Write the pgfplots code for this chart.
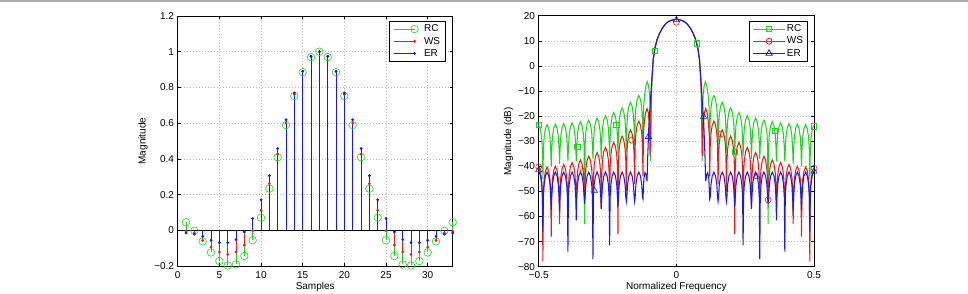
\documentclass[border=0pt]{standalone}
\usepackage{fontspec}
\setmainfont{Liberation Sans}
\usepackage{pgfplots}
\usepackage{pgfplotstable}
\pgfplotsset{compat=1.18}

\definecolor{rccol}{RGB}{25,215,25}
\definecolor{wscol}{RGB}{235,25,25}
\definecolor{ercol}{RGB}{25,25,235}

\pgfplotsset{
  matlab/.style={
    scale only axis,
    clip=false,
    axis line style={black, line width=0.7pt},
    tick style={black, line width=0.5pt},
    major tick length=3pt,
    grid=major,
    grid style={gray!55, line width=0.5pt, dash pattern=on 0.7pt off 2.3pt},
    tick label style={font=\fontsize{10}{12}\selectfont},
    label style={font=\fontsize{10}{12}\selectfont},
    xticklabel style={inner sep=0pt, anchor=north, yshift=-5pt},
    yticklabel style={inner sep=0pt, anchor=east, xshift=-3.5pt},
    legend cell align=left,
    legend style={draw=black, line width=0.7pt, fill=white,
      font=\fontsize{10}{12}\selectfont, anchor=north east,
      row sep=0.7pt, inner xsep=4pt, inner ysep=2pt,
      nodes={inner xsep=1.5pt, inner ysep=1.5pt}},
  },
  stemlegend/.style={legend image code/.code={%
      \draw[##1] (0pt,0pt) -- (21pt,0pt);
      \draw[##1] plot coordinates {(21pt,0pt)};
      \path (28.7pt,0pt);}},
}

% magnitude responses in dB (nan: no sample for that filter at this frequency)
\pgfplotstableread{
f        rc     ws     er
-0.5000  -23.6  -40.5  -42
-0.4939  -25.2  -42.1  -43.6
-0.4893  -28.6  -45.5  -47
-0.4866  -33.6  -50.5  -52
-0.4848  -45    -78    -66
-0.4830  -33.4  -50.3  -52.3
-0.4803  -28.4  -45.3  -47.3
-0.4757  -25.0  -41.9  -43.9
-0.4697  -23.4  -40.3  -42.3
-0.4636  -25.0  -41.9  -43.9
-0.4590  -28.4  -45.3  -47.3
-0.4563  -33.4  -50.3  -52.3
-0.4545  -40    -68    -57.5
-0.4527  -33.2  -50    -52.3
-0.4500  -28.2  -45    -47.3
-0.4454  -24.8  -41.6  -43.9
-0.4394  -23.2  -40    -42.3
-0.4333  -24.8  -41.6  -43.9
-0.4287  -28.2  -45    -47.3
-0.4260  -33.2  -50    -52.3
-0.4242  -39    -63    -58
-0.4224  -33    -49.3  -52.3
-0.4197  -28    -44.3  -47.3
-0.4151  -24.6  -40.9  -43.9
-0.4091  -23    -39.3  -42.3
-0.4030  -24.6  -40.9  -43.9
-0.3984  -28    -44.3  -47.3
-0.3957  -33    -49.3  -52.3
-0.3939  -38    -56    -74
-0.3921  -32.7  -48.5  -52.3
-0.3894  -27.7  -43.5  -47.3
-0.3848  -24.3  -40.1  -43.9
-0.3788  -22.7  -38.5  -42.3
-0.3727  -24.3  -40.1  -43.9
-0.3681  -27.7  -43.5  -47.3
-0.3654  -32.7  -48.5  -52.3
-0.3636  -38    -55    -61.5
-0.3618  -32.2  -47.5  -52.3
-0.3591  -27.2  -42.5  -47.3
-0.3545  -23.8  -39.1  -43.9
-0.3485  -22.2  -37.5  -42.3
-0.3424  -23.8  -39.1  -43.9
-0.3378  -27.2  -42.5  -47.3
-0.3351  -32.2  -47.5  -52.3
-0.3333  -63    -52    -55
-0.3315  -31.6  -46    -52.3
-0.3288  -26.6  -41    -47.3
-0.3242  -23.2  -37.6  -43.9
-0.3182  -21.6  -36    -42.3
-0.3121  -23.2  -37.6  -43.9
-0.3075  -26.6  -41    -47.3
-0.3048  -31.6  -46    -52.3
-0.3030  -37    -53    -77
-0.3012  -30.8  -44.5  -52.3
-0.2985  -25.8  -39.5  -47.3
-0.2939  -22.4  -36.1  -43.9
-0.2879  -20.8  -34.5  -42.3
-0.2818  -22.4  -36.1  -43.9
-0.2772  -25.8  -39.5  -47.3
-0.2745  -30.8  -44.5  -52.3
-0.2727  -37    -57    -57
-0.2709  -29.8  -42.5  -52.3
-0.2682  -24.8  -37.5  -47.3
-0.2636  -21.4  -34.1  -43.9
-0.2576  -19.8  -32.5  -42.3
-0.2515  -21.4  -34.1  -43.9
-0.2469  -24.8  -37.5  -47.3
-0.2442  -29.8  -42.5  -52.3
-0.2424  -36    -54    -71.5
-0.2406  -28.6  -40.5  -52.3
-0.2379  -23.6  -35.5  -47.3
-0.2333  -20.2  -32.1  -43.9
-0.2273  -18.6  -30.5  -42.3
-0.2212  -20.2  -32.1  -43.9
-0.2166  -23.6  -35.5  -47.3
-0.2139  -28.6  -40.5  -52.3
-0.2121  -35    -67    -56
-0.2103  -26.8  -38    -52.3
-0.2076  -21.8  -33    -47.3
-0.2030  -18.4  -29.6  -43.9
-0.1970  -16.8  -28    -42.3
-0.1909  -18.4  -29.6  -43.9
-0.1863  -21.8  -33    -47.3
-0.1836  -26.8  -38    -52.3
-0.1818  -34    -50    -54
-0.1800  -24.5  -35.5  -52.3
-0.1773  -19.5  -30.5  -47.3
-0.1727  -16.1  -27.1  -43.9
-0.1667  -14.5  -25.5  -42.3
-0.1606  -16.1  -27.1  -43.9
-0.1560  -19.5  -30.5  -47.3
-0.1533  -24.5  -35.5  -52.3
-0.1515  -32    -47    -54
-0.1497  -21.8  -32    -52.3
-0.1470  -16.8  -27    -47.3
-0.1424  -13.4  -23.6  -43.9
-0.1364  -11.8  -22    -42.3
-0.1303  -13.4  -23.6  -43.9
-0.1257  -16.8  -27    -47.3
-0.1230  -21.8  -32    -52.3
-0.1212  -31    -44    -53
-0.1195  nan    -27    nan
-0.1190  -16.3  nan    nan
-0.1180  nan    nan    -45
-0.1160  nan    -22    nan
-0.1150  -11.3  nan    nan
-0.1140  nan    nan    -42.5
-0.1115  nan    -18.6  nan
-0.1105  -7.9   nan    nan
-0.1100  nan    nan    -43.5
-0.1065  nan    -17    -46
-0.1055  -6.3   nan    nan
-0.1040  nan    nan    -36
-0.1020  nan    -18.6  nan
-0.1010  -7.9   nan    nan
-0.1000  nan    nan    -24
-0.0990  nan    -22    nan
-0.0975  -11.3  nan    nan
-0.0970  nan    -27    nan
-0.0960  nan    nan    -17
-0.0955  nan    -36    nan
-0.0952  -16.3  nan    nan
-0.0935  -38    nan    nan
-0.0920  nan    nan    -10
-0.0910  -12    -12    nan
-0.0880  -4.0   -4.0   -4.0
-0.0840  2.5    2.5    2.5
-0.0780  7.0    7.0    7.0
-0.0700  10.5   10.5   10.5
-0.0600  13.2   13.2   13.2
-0.0500  15.2   15.2   15.2
-0.0400  16.6   16.6   16.6
-0.0300  17.6   17.6   17.6
-0.0200  18.1   18.1   18.1
-0.0100  18.4   18.4   18.4
 0.0000  18.5   18.5   18.5
 0.0100  18.4   18.4   18.4
 0.0200  18.1   18.1   18.1
 0.0300  17.6   17.6   17.6
 0.0400  16.6   16.6   16.6
 0.0500  15.2   15.2   15.2
 0.0600  13.2   13.2   13.2
 0.0700  10.5   10.5   10.5
 0.0780  7.0    7.0    7.0
 0.0840  2.5    2.5    2.5
 0.0880  -4.0   -4.0   -4.0
 0.0910  -12    -12    nan
 0.0920  nan    nan    -10
 0.0935  -38    nan    nan
 0.0952  -16.3  nan    nan
 0.0955  nan    -36    nan
 0.0960  nan    nan    -17
 0.0970  nan    -27    nan
 0.0975  -11.3  nan    nan
 0.0990  nan    -22    nan
 0.1000  nan    nan    -24
 0.1010  -7.9   nan    nan
 0.1020  nan    -18.6  nan
 0.1040  nan    nan    -36
 0.1055  -6.3   nan    nan
 0.1065  nan    -17    -46
 0.1100  nan    nan    -43.5
 0.1105  -7.9   nan    nan
 0.1115  nan    -18.6  nan
 0.1140  nan    nan    -42.5
 0.1150  -11.3  nan    nan
 0.1160  nan    -22    nan
 0.1180  nan    nan    -45
 0.1190  -16.3  nan    nan
 0.1195  nan    -27    nan
 0.1212  -31    -44    -53
 0.1230  -21.8  -32    -52.3
 0.1257  -16.8  -27    -47.3
 0.1303  -13.4  -23.6  -43.9
 0.1364  -11.8  -22    -42.3
 0.1424  -13.4  -23.6  -43.9
 0.1470  -16.8  -27    -47.3
 0.1497  -21.8  -32    -52.3
 0.1515  -32    -47    -54
 0.1533  -24.5  -35.5  -52.3
 0.1560  -19.5  -30.5  -47.3
 0.1606  -16.1  -27.1  -43.9
 0.1667  -14.5  -25.5  -42.3
 0.1727  -16.1  -27.1  -43.9
 0.1773  -19.5  -30.5  -47.3
 0.1800  -24.5  -35.5  -52.3
 0.1818  -34    -50    -54
 0.1836  -26.8  -38    -52.3
 0.1863  -21.8  -33    -47.3
 0.1909  -18.4  -29.6  -43.9
 0.1970  -16.8  -28    -42.3
 0.2030  -18.4  -29.6  -43.9
 0.2076  -21.8  -33    -47.3
 0.2103  -26.8  -38    -52.3
 0.2121  -35    -67    -56
 0.2139  -28.6  -40.5  -52.3
 0.2166  -23.6  -35.5  -47.3
 0.2212  -20.2  -32.1  -43.9
 0.2273  -18.6  -30.5  -42.3
 0.2333  -20.2  -32.1  -43.9
 0.2379  -23.6  -35.5  -47.3
 0.2406  -28.6  -40.5  -52.3
 0.2424  -36    -54    -71.5
 0.2442  -29.8  -42.5  -52.3
 0.2469  -24.8  -37.5  -47.3
 0.2515  -21.4  -34.1  -43.9
 0.2576  -19.8  -32.5  -42.3
 0.2636  -21.4  -34.1  -43.9
 0.2682  -24.8  -37.5  -47.3
 0.2709  -29.8  -42.5  -52.3
 0.2727  -37    -57    -57
 0.2745  -30.8  -44.5  -52.3
 0.2772  -25.8  -39.5  -47.3
 0.2818  -22.4  -36.1  -43.9
 0.2879  -20.8  -34.5  -42.3
 0.2939  -22.4  -36.1  -43.9
 0.2985  -25.8  -39.5  -47.3
 0.3012  -30.8  -44.5  -52.3
 0.3030  -37    -53    -77
 0.3048  -31.6  -46    -52.3
 0.3075  -26.6  -41    -47.3
 0.3121  -23.2  -37.6  -43.9
 0.3182  -21.6  -36    -42.3
 0.3242  -23.2  -37.6  -43.9
 0.3288  -26.6  -41    -47.3
 0.3315  -31.6  -46    -52.3
 0.3333  -63    -52    -55
 0.3351  -32.2  -47.5  -52.3
 0.3378  -27.2  -42.5  -47.3
 0.3424  -23.8  -39.1  -43.9
 0.3485  -22.2  -37.5  -42.3
 0.3545  -23.8  -39.1  -43.9
 0.3591  -27.2  -42.5  -47.3
 0.3618  -32.2  -47.5  -52.3
 0.3636  -38    -55    -61.5
 0.3654  -32.7  -48.5  -52.3
 0.3681  -27.7  -43.5  -47.3
 0.3727  -24.3  -40.1  -43.9
 0.3788  -22.7  -38.5  -42.3
 0.3848  -24.3  -40.1  -43.9
 0.3894  -27.7  -43.5  -47.3
 0.3921  -32.7  -48.5  -52.3
 0.3939  -38    -56    -74
 0.3957  -33    -49.3  -52.3
 0.3984  -28    -44.3  -47.3
 0.4030  -24.6  -40.9  -43.9
 0.4091  -23    -39.3  -42.3
 0.4151  -24.6  -40.9  -43.9
 0.4197  -28    -44.3  -47.3
 0.4224  -33    -49.3  -52.3
 0.4242  -39    -63    -58
 0.4260  -33.2  -50    -52.3
 0.4287  -28.2  -45    -47.3
 0.4333  -24.8  -41.6  -43.9
 0.4394  -23.2  -40    -42.3
 0.4454  -24.8  -41.6  -43.9
 0.4500  -28.2  -45    -47.3
 0.4527  -33.2  -50    -52.3
 0.4545  -40    -68    -57.5
 0.4563  -33.4  -50.3  -52.3
 0.4590  -28.4  -45.3  -47.3
 0.4636  -25.0  -41.9  -43.9
 0.4697  -23.4  -40.3  -42.3
 0.4757  -25.0  -41.9  -43.9
 0.4803  -28.4  -45.3  -47.3
 0.4830  -33.4  -50.3  -52.3
 0.4848  -45    -78    -66
 0.4866  -33.6  -50.5  -52
 0.4893  -28.6  -45.5  -47
 0.4939  -25.2  -42.1  -43.6
 0.5000  -23.6  -40.5  -42
}\magtab

\begin{document}
\begin{tikzpicture}
\path[use as bounding box] (0,0) rectangle (968pt,294pt);
\draw[gray!65, line width=1.6pt] (0,293.2pt) -- (968pt,293.2pt);

% ---------------- impulse responses ----------------
\begin{axis}[matlab,
  at={(177.7pt,28pt)}, anchor=south west,
  width=275pt, height=250pt,
  xmin=0, xmax=33, ymin=-0.2, ymax=1.2,
  xtick={0,5,...,30}, xticklabels={0,5,10,15,20,25,30},
  ytick={-0.2,0,0.2,0.4,0.6,0.8,1,1.2},
  yticklabels={−0.2,0,0.2,0.4,0.6,0.8,1,1.2},
  xlabel={Samples}, ylabel={Magnitude},
  xlabel style={at={(axis description cs:0.5,-0.084)}, anchor=center},
  ylabel style={at={(axis description cs:-0.126,0.5)}, anchor=center},
  legend style={at={(0.9756,0.98)}},
]
\addplot[black, line width=0.5pt, forget plot] coordinates {(0,0) (33,0)};

\addplot[ycomb, rccol, line width=0.6pt, mark=o, mark size=3.8pt,
  mark options={solid, line width=0.6pt}, stemlegend] coordinates {
  (1,0.045) (2,-0.003) (3,-0.062) (4,-0.124) (5,-0.172) (6,-0.197) (7,-0.191)
  (8,-0.144) (9,-0.056) (10,0.071) (11,0.233) (12,0.409) (13,0.589) (14,0.752)
  (15,0.885) (16,0.970) (17,1.000) (18,0.970) (19,0.885) (20,0.752) (21,0.589)
  (22,0.409) (23,0.233) (24,0.071) (25,-0.056) (26,-0.144) (27,-0.191) (28,-0.197)
  (29,-0.172) (30,-0.124) (31,-0.062) (32,-0.003) (33,0.045)};
\addlegendentry{RC}

\addplot[ycomb, wscol, line width=0.6pt, mark=*, mark size=1.1pt,
  mark options={solid}, stemlegend] coordinates {
  (1,-0.004) (2,-0.015) (3,-0.057) (4,-0.094) (5,-0.122) (6,-0.135) (7,-0.122)
  (8,-0.083) (9,-0.002) (10,0.112) (11,0.261) (12,0.426) (13,0.600) (14,0.760)
  (15,0.890) (16,0.974) (17,1.000) (18,0.974) (19,0.890) (20,0.760) (21,0.600)
  (22,0.426) (23,0.261) (24,0.112) (25,-0.002) (26,-0.083) (27,-0.122) (28,-0.135)
  (29,-0.122) (30,-0.094) (31,-0.057) (32,-0.015) (33,-0.004)};
\addlegendentry{WS}

\addplot[ycomb, ercol, line width=0.6pt, mark=*, mark size=1.1pt,
  mark options={solid}, stemlegend] coordinates {
  (1,-0.015) (2,-0.022) (3,-0.034) (4,-0.056) (5,-0.069) (6,-0.069) (7,-0.052)
  (8,-0.009) (9,0.066) (10,0.171) (11,0.306) (12,0.458) (13,0.619) (14,0.769)
  (15,0.890) (16,0.974) (17,1.000) (18,0.974) (19,0.890) (20,0.769) (21,0.619)
  (22,0.458) (23,0.306) (24,0.171) (25,0.066) (26,-0.009) (27,-0.052) (28,-0.069)
  (29,-0.069) (30,-0.056) (31,-0.034) (32,-0.022) (33,-0.015)};
\addlegendentry{ER}
\end{axis}

% ---------------- magnitude responses ----------------
\begin{axis}[matlab,
  at={(538.7pt,27.3pt)}, anchor=south west,
  width=275.3pt, height=251pt,
  xmin=-0.5, xmax=0.5, ymin=-80, ymax=20,
  xtick={-0.5,0,0.5}, xticklabels={−0.5,0,0.5},
  ytick={-80,-70,...,20},
  yticklabels={−80,−70,−60,−50,−40,−30,−20,−10,0,10,20},
  xlabel={Normalized Frequency}, ylabel={Magnitude (dB)},
  xlabel style={at={(axis description cs:0.5,-0.081)}, anchor=center},
  ylabel style={at={(axis description cs:-0.110,0.5)}, anchor=center},
  legend image code/.code={\draw[#1, mark repeat=2, mark phase=2]
      plot coordinates {(0pt,0pt) (16pt,0pt) (32pt,0pt)};},
  legend style={at={(0.978,0.979)}, inner xsep=3pt},
]
\addlegendimage{rccol, line width=0.8pt, mark=square, mark size=2.7pt, mark options={solid}}
\addlegendentry{RC}
\addlegendimage{wscol, line width=0.8pt, mark=o, mark size=3pt, mark options={solid}}
\addlegendentry{WS}
\addlegendimage{ercol, line width=0.8pt, mark=triangle, mark size=3.6pt, mark options={solid}}
\addlegendentry{ER}

\addplot[rccol, line width=1.05pt, forget plot] table[x=f, y=rc] {\magtab};
\addplot[wscol, line width=1.05pt, forget plot] table[x=f, y=ws] {\magtab};
\addplot[ercol, line width=1.05pt, forget plot] table[x=f, y=er] {\magtab};

% markers along the curves
\addplot[only marks, rccol, mark=square, mark size=2.7pt, mark options={solid, line width=0.6pt}, forget plot]
  coordinates {(-0.5,-23.5) (-0.3605,-32.2) (-0.2175,-23.5) (-0.0776,6.1)
               (0.074,9.0) (0.2117,-34.2) (0.3571,-25.8) (0.5,-24.0)};
\addplot[only marks, wscol, mark=o, mark size=3pt, mark options={solid, line width=0.6pt}, forget plot]
  coordinates {(-0.5,-40.2) (-0.3385,-42.0) (-0.162,-29.6) (0,17.4)
               (0.162,-27.1) (0.3333,-53.4) (0.5,-40.8)};
\addplot[only marks, ercol, mark=triangle, mark size=3.6pt, mark options={solid, line width=0.6pt}, forget plot]
  coordinates {(-0.5,-41.5) (-0.2976,-49.7) (-0.1015,-28.2) (0,18.3)
               (0.099,-20.2) (0.2916,-44.1) (0.5,-42.0)};
\end{axis}
\end{tikzpicture}
\end{document}
